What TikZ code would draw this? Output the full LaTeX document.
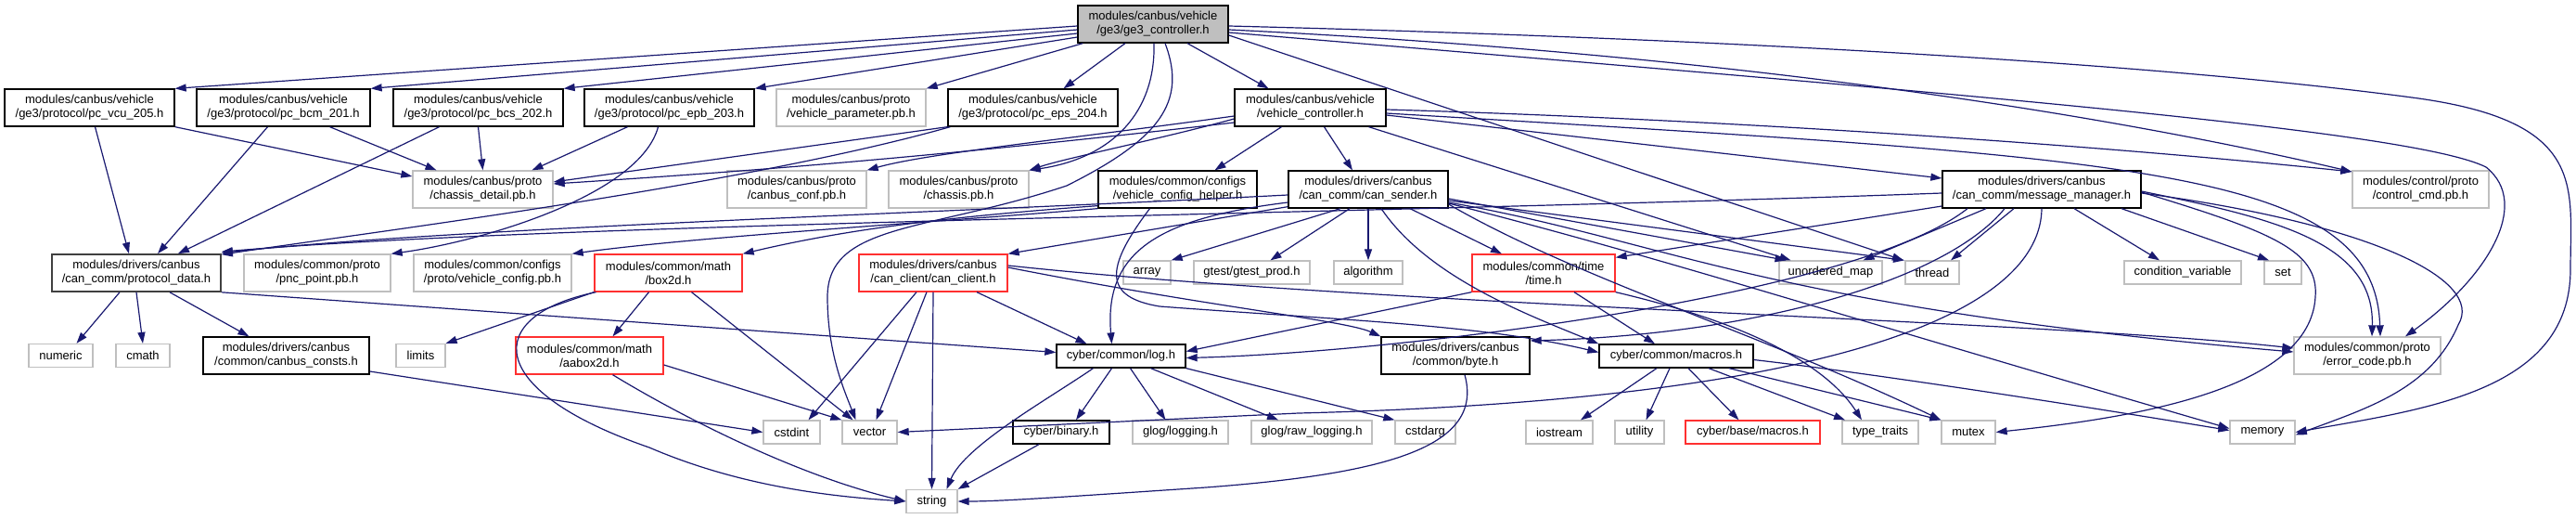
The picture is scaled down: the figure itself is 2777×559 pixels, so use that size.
\documentclass[tikz,border=0pt]{standalone}
\usepackage{fontspec}
\setmainfont{Liberation Sans}
\usetikzlibrary{arrows.meta}
\definecolor{ec}{HTML}{191970}
\definecolor{gb}{HTML}{BFBFBF}
\definecolor{rb}{HTML}{FF3030}
\definecolor{db}{HTML}{404040}
\newcommand{\fs}{\fontsize{13}{15}\selectfont}
\begin{document}
\begin{tikzpicture}[x=1pt,y=-1pt,
  nd/.style={rectangle, draw=black, line width=1.3pt, inner sep=0pt, minimum height=40pt, align=center, font=\fs, fill=white},
  one/.style={minimum height=25pt},
  gr/.style={draw=gb},
  rd/.style={draw=rb},
  e/.style={draw=ec, line width=1.2pt, -{Triangle[length=12pt,width=8pt]}}]
\fill[white] (0,0) rectangle (2777,559);
\useasboundingbox (0,0) rectangle (2777,559);
% row 1
\node[nd, fill=gb, minimum width=162pt] (ge3) at (1243,26) {modules/canbus/vehicle\\/ge3/ge3\_controller.h};
% row 2
\node[nd, minimum width=183pt] (vcu) at (96.5,116) {modules/canbus/vehicle\\/ge3/protocol/pc\_vcu\_205.h};
\node[nd, minimum width=187pt] (bcm) at (305.5,116) {modules/canbus/vehicle\\/ge3/protocol/pc\_bcm\_201.h};
\node[nd, minimum width=183pt] (bcs) at (515.5,116) {modules/canbus/vehicle\\/ge3/protocol/pc\_bcs\_202.h};
\node[nd, minimum width=183pt] (epb) at (721.5,116) {modules/canbus/vehicle\\/ge3/protocol/pc\_epb\_203.h};
\node[nd, gr, minimum width=161pt] (vparam) at (917.5,116) {modules/canbus/proto\\/vehicle\_parameter.pb.h};
\node[nd, minimum width=183pt] (eps) at (1113.5,116) {modules/canbus/vehicle\\/ge3/protocol/pc\_eps\_204.h};
\node[nd, minimum width=163pt] (vc) at (1412.5,116) {modules/canbus/vehicle\\/vehicle\_controller.h};
% row 3
\node[nd, gr, minimum width=151pt] (chassisdetail) at (520.5,204) {modules/canbus/proto\\/chassis\_detail.pb.h};
\node[nd, gr, minimum width=150pt] (canbusconf) at (859,204) {modules/canbus/proto\\/canbus\_conf.pb.h};
\node[nd, gr, minimum width=151pt] (chassis) at (1033.5,204) {modules/canbus/proto\\/chassis.pb.h};
\node[nd, minimum width=171pt] (vch) at (1269.5,204) {modules/common/configs\\/vehicle\_config\_helper.h};
\node[nd, minimum width=172pt] (cansender) at (1475,204) {modules/drivers/canbus\\/can\_comm/can\_sender.h};
\node[nd, minimum width=214pt] (msgmgr) at (2201,204) {modules/drivers/canbus\\/can\_comm/message\_manager.h};
\node[nd, gr, minimum width=147pt] (controlcmd) at (2609.5,204) {modules/control/proto\\/control\_cmd.pb.h};
% row 4
\node[nd, draw=db, line width=1.6pt, minimum width=182pt] (protocoldata) at (147,294) {modules/drivers/canbus\\/can\_comm/protocol\_data.h};
\node[nd, gr, minimum width=158pt] (pncpoint) at (342,294) {modules/common/proto\\/pnc\_point.pb.h};
\node[nd, gr, minimum width=170pt] (vconfig) at (531,294) {modules/common/configs\\/proto/vehicle\_config.pb.h};
\node[nd, rd, minimum width=159pt] (box2d) at (720.5,294) {modules/common/math\\/box2d.h};
\node[nd, rd, minimum width=160pt] (canclient) at (1006,294) {modules/drivers/canbus\\/can\_client/can\_client.h};
\node[nd, gr, one, minimum width=51pt] (array) at (1236.5,293.5) {array};
\node[nd, gr, one, minimum width=125pt] (gtest) at (1349.5,293.5) {gtest/gtest\_prod.h};
\node[nd, gr, one, minimum width=74pt] (algorithm) at (1475,293.5) {algorithm};
\node[nd, rd, minimum width=154pt] (time) at (1664,294) {modules/common/time\\/time.h};
\node[nd, gr, one, minimum width=111pt] (umap) at (1973.5,293.5) {unordered\_map};
\node[nd, gr, one, minimum width=58pt] (thread) at (2083,293.5) {thread};
\node[nd, gr, one, minimum width=126pt] (condvar) at (2353,293.5) {condition\_variable};
\node[nd, gr, one, minimum width=40pt] (set) at (2461,293.5) {set};
% row 5
\node[nd, gr, one, minimum width=69pt] (numeric) at (65.5,383) {numeric};
\node[nd, gr, one, minimum width=58pt] (cmath) at (154,383) {cmath};
\node[nd, minimum width=179pt] (canbusconsts) at (308.5,383) {modules/drivers/canbus\\/common/canbus\_consts.h};
\node[nd, gr, one, minimum width=53pt] (limits) at (453.5,383) {limits};
\node[nd, rd, minimum width=159pt] (aabox2d) at (635.5,383) {modules/common/math\\/aabox2d.h};
\node[nd, one, minimum width=139pt] (log) at (1208.5,383.5) {cyber/common/log.h};
\node[nd, minimum width=160pt] (byte) at (1569,383) {modules/drivers/canbus\\/common/byte.h};
\node[nd, one, minimum width=166pt] (macros) at (1807,383.5) {cyber/common/macros.h};
\node[nd, gr, minimum width=158pt] (errorcode) at (2552,383) {modules/common/proto\\/error\_code.pb.h};
% row 6
\node[nd, gr, one, minimum width=61pt] (cstdint) at (853.5,465.5) {cstdint};
\node[nd, gr, one, minimum width=59pt] (vector) at (937.5,465.5) {vector};
\node[nd, one, minimum width=104pt] (binary) at (1144,465.5) {cyber/binary.h};
\node[nd, gr, one, minimum width=103pt] (glog) at (1272.5,465.5) {glog/logging.h};
\node[nd, gr, one, minimum width=130pt] (rawlog) at (1414,465.5) {glog/raw\_logging.h};
\node[nd, gr, one, minimum width=65pt] (cstdarg) at (1536.5,465.5) {cstdarg};
\node[nd, gr, one, minimum width=72pt] (iostream) at (1681,465.5) {iostream};
\node[nd, gr, one, minimum width=53pt] (utility) at (1767.5,465.5) {utility};
\node[nd, rd, one, minimum width=145pt] (basemacros) at (1889.5,465.5) {cyber/base/macros.h};
\node[nd, gr, one, minimum width=82pt] (typetraits) at (2027,465.5) {type\_traits};
\node[nd, gr, one, minimum width=58pt] (mutex) at (2122,465.5) {mutex};
\node[nd, gr, one, minimum width=70pt] (memory) at (2439,465.5) {memory};
% row 7
\node[nd, gr, one, minimum width=55pt] (string) at (1004.5,540) {string};

% ===== edges from ge3
\draw[e] ([yshift=-2pt]ge3.west) -- (vcu.north east);
\draw[e] ([yshift=-6pt]ge3.west) -- (bcm.north east);
\draw[e] ([yshift=-10pt]ge3.west) -- (bcs.north east);
\draw[e] ([yshift=-14pt]ge3.west) -- (epb.north east);
\draw[e] ([xshift=6pt]ge3.south west) -- (vparam.north east);
\draw[e] ([xshift=-30pt]ge3.south) -- ([xshift=33pt]eps.north);
\draw[e] ([xshift=37pt]ge3.south) -- ([xshift=-45pt]vc.north);
\draw[e] ([xshift=1pt]ge3.south) .. controls (1246,120) and (1200,170) .. (chassis.north east);
\draw[e] ([xshift=13pt]ge3.south) .. controls (1280,110) and (1250,150) .. (1150,200) .. controls (1000,250) and (892,240) .. (892,320) .. controls (892,380) and (910,420) .. ([xshift=-15pt]vector.north);
\draw[e] ([yshift=-2pt]ge3.east) .. controls (1800,40) and (2300,65) .. (2600,105) .. controls (2790,130) and (2771,200) .. (2771,290) .. controls (2771,420) and (2620,440) .. (memory.east);
\draw[e] ([yshift=-6pt]ge3.east) .. controls (1900,60) and (2300,130) .. ([yshift=19pt]controlcmd.west);
\draw[e] ([yshift=-9pt]ge3.east) .. controls (2100,100) and (2600,140) .. (2680,180) .. controls (2730,220) and (2680,300) .. ([xshift=41pt]errorcode.north);
\draw[e] ([yshift=-12pt]ge3.east) -- ([xshift=-31pt]thread.north);

% ===== pc_* edges
\draw[e] ([xshift=6pt]vcu.south) -- ([xshift=-8pt]protocoldata.north);
\draw[e] (vcu.south east) -- ([yshift=14pt]chassisdetail.west);
\draw[e] ([xshift=-17pt]bcm.south) -- ([xshift=23pt]protocoldata.north);
\draw[e] ([xshift=50pt]bcm.south) -- ([xshift=-50pt]chassisdetail.north);
\draw[e] ([xshift=-42pt]bcs.south) -- ([xshift=45pt]protocoldata.north);
\draw[e] (bcs.south) -- (chassisdetail.north);
\draw[e] ([xshift=-45pt]epb.south) -- ([xshift=53pt]chassisdetail.north);
\draw[e] ([xshift=-12pt]epb.south) .. controls (690,210) and (520,260) .. (pncpoint.north east);
\draw[e] (eps.south west) -- ([yshift=8pt]chassisdetail.east);
\draw[e] ([xshift=3pt]eps.south west) .. controls (800,200) and (400,250) .. ([yshift=-1pt]protocoldata.north east);

% ===== vehicle_controller
\draw[e] ([yshift=-9pt]vc.west) .. controls (1150,150) and (1000,165) .. (canbusconf.north east);
\draw[e] ([yshift=-12pt]vc.west) .. controls (1250,150) and (1150,170) .. (chassis.north east);
\draw[e] ([yshift=-16pt]vc.west) .. controls (1000,170) and (800,185) .. ([yshift=6pt]chassisdetail.east);
\draw[e] ([xshift=-31pt]vc.south) -- ([xshift=40pt]vch.north);
\draw[e] ([xshift=15pt]vc.south) -- ([xshift=-17pt]cansender.north);
\draw[e] ([xshift=63pt]vc.south) -- ([xshift=-43pt]umap.north);
\draw[e] ([yshift=-8pt]vc.east) -- ([yshift=12pt]msgmgr.west);
\draw[e] ([yshift=-2pt]vc.east) .. controls (1900,130) and (2300,160) .. ([yshift=19pt]controlcmd.west);
\draw[e] ([yshift=-6pt]vc.east) .. controls (2300,170) and (2560,180) .. ([xshift=14pt]errorcode.north);

% ===== vehicle_config_helper
\draw[e] (vch.south west) .. controls (1000,240) and (750,255) .. (vconfig.north east);
\draw[e] ([yshift=3pt]vch.south west) .. controls (1000,235) and (900,250) .. (box2d.north east);
\draw[e] ([xshift=-30pt]vch.south) .. controls (1190,290) and (1190,320) .. (1250,330) .. controls (1450,345) and (1600,350) .. ([yshift=4pt]macros.west);

% ===== can_sender
\draw[e] ([yshift=-6pt]cansender.west) .. controls (1000,230) and (500,245) .. ([yshift=1pt]protocoldata.north east);
\draw[e] ([yshift=2pt]cansender.south west) -- (canclient.north east);
\draw[e] ([xshift=-30pt]cansender.south) -- (array.north east);
\draw[e] ([xshift=-20pt]cansender.south) -- ([xshift=20pt]gtest.north);
\draw[e] (cansender.south) -- (algorithm.north);
\draw[e] ([xshift=45pt]cansender.south) -- ([xshift=-45pt]time.north);
\draw[e] ([xshift=14pt]cansender.south) .. controls (1540,300) and (1650,340) .. (macros.north west);
\draw[e] ([yshift=-14pt]cansender.west) .. controls (1250,235) and (1190,270) .. ([xshift=-10pt]log.north);
\draw[e] ([yshift=-10pt]cansender.east) -- ([xshift=-48pt]umap.north);
\draw[e] ([yshift=-12pt]cansender.east) -- ([xshift=-30pt]thread.north);
\draw[e] ([yshift=-14pt]cansender.east) .. controls (1800,260) and (1900,330) .. ([yshift=4pt]errorcode.west);
\draw[e] ([yshift=-15pt]cansender.east) .. controls (1800,280) and (1950,330) .. ([yshift=4pt]memory.west);
\draw[e] ([yshift=-16pt]cansender.east) .. controls (1700,300) and (1900,360) .. (mutex.north west);

% ===== message_manager
\draw[e] ([yshift=-4pt]msgmgr.west) .. controls (1500,230) and (600,240) .. ([yshift=2pt]protocoldata.north east);
\draw[e] ([yshift=-18pt]msgmgr.west) -- ([yshift=-4pt]time.north east);
\draw[e] ([xshift=-40pt]msgmgr.south) .. controls (2100,300) and (1900,360) .. ([yshift=16pt]byte.east);
\draw[e] ([xshift=-80pt]msgmgr.south) .. controls (2000,320) and (1500,380) .. ([yshift=-2pt]log.east);
\draw[e] (msgmgr.south) .. controls (2200,330) and (2000,430) .. (1400,445) -- (vector.east);
\draw[e] ([xshift=-30pt]msgmgr.south) -- ([xshift=20pt]thread.north);
\draw[e] ([xshift=-60pt]msgmgr.south) -- ([xshift=35pt]umap.north);
\draw[e] ([xshift=35pt]msgmgr.south) -- ([xshift=-25pt]condvar.north);
\draw[e] ([xshift=86pt]msgmgr.south) -- ([xshift=-15pt]set.north);
\draw[e] ([yshift=-2pt]msgmgr.east) .. controls (2450,235) and (2560,260) .. ([xshift=5pt]errorcode.north);
\draw[e] ([yshift=-4pt]msgmgr.east) .. controls (2550,240) and (2680,300) .. (2650,350) .. controls (2620,420) and (2550,440) .. ([yshift=-3pt]memory.east);
\draw[e] ([yshift=-3pt]msgmgr.east) .. controls (2450,250) and (2500,270) .. (2496,320) .. controls (2490,420) and (2300,450) .. (mutex.east);

% ===== lower levels
\draw[e] ([xshift=-18pt]protocoldata.south) -- ([xshift=17pt]numeric.north);
\draw[e] (protocoldata.south) -- (cmath.north);
\draw[e] ([xshift=36pt]protocoldata.south) -- ([xshift=-40pt]canbusconsts.north);
\draw[e] (protocoldata.south east) -- ([yshift=4pt]log.west);
\draw[e] ([yshift=-17pt]canbusconsts.east) -- (cstdint.west);
\draw[e] (box2d.south west) -- (limits.north east);
\draw[e] ([xshift=-21pt]box2d.south) -- ([xshift=25pt]aabox2d.north);
\draw[e] ([xshift=-78pt]box2d.south) .. controls (520,340) and (520,420) .. (700,482) .. controls (800,525) and (900,535) .. (string.west);
\draw[e] ([xshift=25pt]box2d.south) -- ([xshift=-18pt]vector.north);
\draw[e] ([yshift=-10pt]aabox2d.east) -- (vector.north west);
\draw[e] ([xshift=25pt]aabox2d.south) .. controls (720,440) and (850,510) .. (string.west);
\draw[e] ([xshift=-18pt]canclient.south) -- ([xshift=18pt]cstdint.north);
\draw[e] ([xshift=-7pt]canclient.south) -- ([xshift=7pt]vector.north);
\draw[e] (canclient.south) -- (string.north);
\draw[e] ([xshift=47pt]canclient.south) -- ([xshift=-37pt]log.north);
\draw[e] ([yshift=8pt]canclient.east) .. controls (1500,330) and (2200,345) .. ([yshift=8pt]errorcode.west);
\draw[e] ([yshift=6pt]canclient.east) .. controls (1300,330) and (1450,345) .. (byte.north west);
\draw[e] (time.south west) -- ([yshift=5pt]log.east);
\draw[e] ([xshift=33pt]time.south) -- ([xshift=-23pt]macros.north);
\draw[e] (time.south east) .. controls (1850,340) and (1960,380) .. ([xshift=-20pt]typetraits.north);
\draw[e] ([xshift=-30pt]log.south) .. controls (1130,430) and (1040,480) .. ([xshift=16pt]string.north);
\draw[e] ([xshift=-10pt]log.south) -- ([xshift=16pt]binary.north);
\draw[e] ([xshift=10pt]log.south) -- ([xshift=-16pt]glog.north);
\draw[e] ([xshift=32pt]log.south) -- ([xshift=-36pt]rawlog.north);
\draw[e] (log.south east) -- (cstdarg.north west);
\draw[e] ([xshift=-24pt]binary.south) -- (string.north east);
\draw[e] ([xshift=10pt]byte.south) .. controls (1600,480) and (1500,510) .. (1300,525) .. controls (1150,535) and (1080,540) .. (string.east);
\draw[e] ([xshift=-21pt]macros.south) -- ([xshift=23pt]iostream.north);
\draw[e] ([xshift=-7pt]macros.south) -- ([xshift=7pt]utility.north);
\draw[e] ([xshift=13pt]macros.south) -- ([xshift=-15pt]basemacros.north);
\draw[e] ([xshift=35pt]macros.south) -- ([xshift=-38pt]typetraits.north);
\draw[e] ([xshift=57pt]macros.south) -- (mutex.north west);
\draw[e] ([yshift=-4pt]macros.east) .. controls (2000,400) and (2200,430) .. ([yshift=2pt]memory.west);
\end{tikzpicture}
\end{document}
